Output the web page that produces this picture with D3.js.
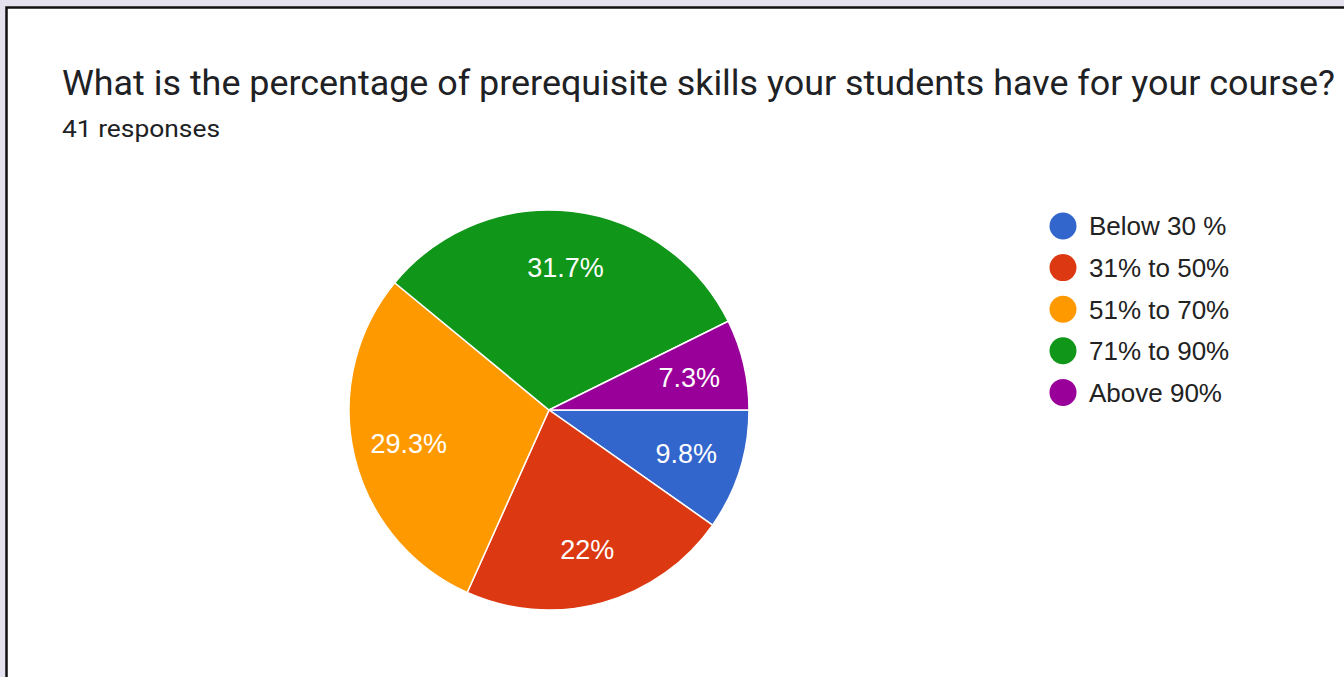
<!DOCTYPE html>
<html lang="en">
<head>
<meta charset="UTF-8">
<title>pie</title>
<script src="https://cdn.jsdelivr.net/npm/d3@7/dist/d3.min.js"></script>
<style>
	body { margin: 0; background: #e6e1ee; overflow: hidden; }
</style>
</head>
<body>
<script>
	const categories = ['Below 30 %', '31% to 50%', '51% to 70%', '71% to 90%', 'Above 90%']
	const counts = [4, 9, 12, 13, 3]
	const sliceLabels = ['9.8%', '22%', '29.3%', '31.7%', '7.3%']
	const colors = ['#3366cc', '#dc3912', '#ff9900', '#109618', '#990099']

	const width = 1344, height = 677
	const svg = d3.select('body').append('svg')
		.attr('width', width)
		.attr('height', height)
		.style('display', 'block')

	// white card, only top and left edges show
	svg.append('rect')
		.attr('x', 6.5).attr('y', 7.5)
		.attr('width', width + 20).attr('height', height + 20)
		.attr('fill', '#fff')
		.attr('stroke', '#111')
		.attr('stroke-width', 2.5)

	svg.append('text')
		.attr('x', 62).attr('y', 95)
		.attr('font-family', 'Roboto, sans-serif')
		.attr('font-size', 35)
		.attr('fill', '#202124')
		.attr('textLength', 1273)
		.attr('lengthAdjust', 'spacingAndGlyphs')
		.text('What is the percentage of prerequisite skills your students have for your course?')

	svg.append('text')
		.attr('x', 62).attr('y', 137)
		.attr('font-family', 'Roboto, sans-serif')
		.attr('font-size', 24)
		.attr('fill', '#202124')
		.attr('textLength', 158)
		.attr('lengthAdjust', 'spacingAndGlyphs')
		.text('41 responses')

	const radius = 200
	const cx = 549, cy = 410

	const pie = d3.pie().sort(null)
		.startAngle(Math.PI / 2)
		.endAngle(Math.PI / 2 + Math.PI * 2)
	const arcs = pie(counts)

	const arc = d3.arc().innerRadius(0).outerRadius(radius)
	const labelArc = d3.arc().innerRadius(radius * 0.72).outerRadius(radius * 0.72)

	const g = svg.append('g').attr('transform', `translate(${cx},${cy})`)

	g.selectAll('path')
		.data(arcs)
		.enter()
		.append('path')
		.attr('d', arc)
		.attr('fill', (d, i) => colors[i])
		.attr('stroke', '#fff')
		.attr('stroke-width', 1.5)

	g.selectAll('text')
		.data(arcs)
		.enter()
		.append('text')
		.attr('transform', d => `translate(${labelArc.centroid(d)})`)
		.attr('text-anchor', 'middle')
		.attr('dy', '0.36em')
		.attr('font-family', 'Arial, "Liberation Sans", sans-serif')
		.attr('font-size', 27)
		.attr('fill', '#fff')
		.text((d, i) => sliceLabels[i])

	// legend
	const legend = svg.append('g').attr('transform', 'translate(1063,226)')
	const item = legend.selectAll('g')
		.data(categories)
		.enter()
		.append('g')
		.attr('transform', (d, i) => `translate(0,${i * 41.6})`)
	item.append('circle')
		.attr('r', 13.5)
		.attr('fill', (d, i) => colors[i])
	item.append('text')
		.attr('x', 26)
		.attr('dy', '0.36em')
		.attr('font-family', 'Arial, "Liberation Sans", sans-serif')
		.attr('font-size', 26)
		.attr('fill', '#222')
		.text(d => d)
</script>
</body>
</html>
